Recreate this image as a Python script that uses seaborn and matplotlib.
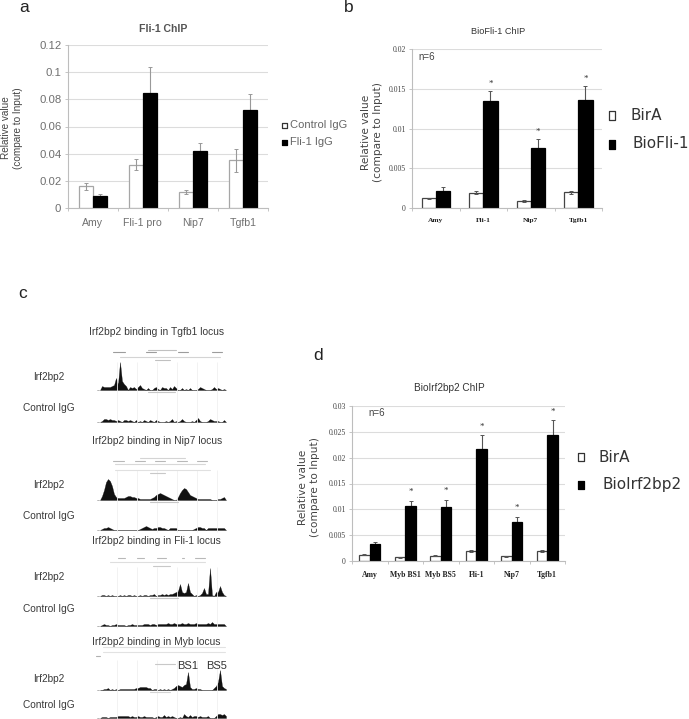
# -*- coding: utf-8 -*-
import numpy as np
import pandas as pd
import matplotlib
matplotlib.use('agg')
import matplotlib.pyplot as plt
import seaborn as sns

W, H = 689, 719

# panel a
a_loci = ['Amy', 'Fli-1 pro', 'Nip7', 'Tgfb1']
a_ctrl = [0.016, 0.032, 0.012, 0.035]
a_ctrl_err = [0.0025, 0.004, 0.0015, 0.0085]
a_treat = [0.009, 0.0845, 0.042, 0.0725]
a_treat_err = [0.001, 0.019, 0.006, 0.0115]
a_ticks = [0, 0.02, 0.04, 0.06, 0.08, 0.1, 0.12]
a_ticklabels = ['0', '0.02', '0.04', '0.06', '0.08', '0.1', '0.12']

# panel b
b_loci = ['Amy', 'Fli-1', 'Nip7', 'Tgfb1']
b_ctrl = [0.0012, 0.0019, 0.0009, 0.002]
b_ctrl_err = [0.0001, 0.0002, 0.0001, 0.0002]
b_treat = [0.0022, 0.0135, 0.0076, 0.0136]
b_treat_err = [0.0004, 0.0012, 0.0011, 0.0017]
b_ticks = [0, 0.005, 0.01, 0.015, 0.02]
b_ticklabels = ['0', '0.005', '0.01', '0.015', '0.02']
b_stars = [False, True, True, True]

# panel d
d_loci = ['Amy', 'Myb BS1', 'Myb BS5', 'Fli-1', 'Nip7', 'Tgfb1']
d_ctrl = [0.0012, 0.0007, 0.001, 0.002, 0.0009, 0.002]
d_ctrl_err = [0.0001, 0.0001, 0.0001, 0.0002, 0.0001, 0.0002]
d_treat = [0.0032, 0.0107, 0.0105, 0.0217, 0.0076, 0.0243]
d_treat_err = [0.0004, 0.001, 0.0014, 0.0026, 0.001, 0.003]
d_ticks = [0, 0.005, 0.01, 0.015, 0.02, 0.025, 0.03]
d_ticklabels = ['0', '0.005', '0.01', '0.015', '0.02', '0.025', '0.03']
d_stars = [False, True, True, True, True, True]

# panel c, read-depth signal every 2 px from x=100 on the track
tgfb_irf = [0, 4, 3, 3, 3, 3, 4, 5, 12, 6, 28, 9, 6, 4, 0, 3, 2, 3, 1, 3, 5, 2, 1, 0, 2, 0, 0, 2, 3, 1, 0, 3,
            2, 2, 0, 3, 1, 4, 2, 0, 0, 2, 0, 1, 0, 2, 0, 0, 0, 1, 3, 2, 1, 0, 0, 0, 1, 3, 1, 2, 1, 0, 1, 0]
tgfb_igg = [0, 1, 3, 3, 2, 3, 2, 2, 1, 2, 1, 0, 2, 2, 1, 2, 1, 0, 2, 0, 1, 0, 2, 1, 0, 2, 1, 0, 2, 1, 0, 0,
            0, 1, 0, 1, 3, 0, 1, 0, 1, 3, 1, 0, 0, 0, 1, 0, 2, 4, 1, 0, 0, 0, 1, 3, 2, 1, 1, 1, 0, 0, 2, 0]
nip7_irf = [0, 4, 10, 18, 21, 19, 14, 6, 3, 2, 2, 2, 2, 3, 4, 4, 3, 3, 2, 2, 1, 1, 1, 1, 1, 1, 2, 3, 5, 6, 7, 6,
            5, 4, 3, 2, 1, 0, 0, 3, 7, 10, 12, 11, 8, 5, 4, 3, 2, 1, 1, 1, 1, 1, 1, 1, 0, 0, 0, 1, 1, 2, 3, 0]
nip7_igg = [0, 1, 2, 2, 3, 2, 1, 0, 0, 0, 0, 0, 0, 0, 0, 0, 0, 0, 0, 0, 1, 2, 3, 4, 3, 2, 1, 2, 2, 3, 3, 2,
            2, 1, 0, 2, 2, 2, 2, 0, 0, 0, 0, 0, 0, 0, 0, 1, 2, 3, 3, 2, 2, 0, 2, 2, 2, 2, 2, 2, 2, 2, 2, 0]
fli_irf = [0, 1, 1, 0, 1, 0, 1, 0, 0, 0, 1, 0, 1, 0, 1, 1, 0, 1, 0, 0, 1, 0, 1, 1, 0, 1, 1, 2, 0, 1, 1, 2,
           1, 2, 1, 2, 2, 3, 4, 5, 12, 4, 3, 4, 13, 4, 2, 0, 1, 0, 1, 3, 8, 2, 2, 28, 1, 0, 4, 4, 10, 4, 1, 0]
fli_igg = [0, 1, 2, 1, 1, 0, 1, 1, 2, 1, 1, 1, 1, 0, 1, 1, 2, 1, 1, 1, 1, 1, 2, 2, 2, 1, 2, 2, 1, 2, 2, 2,
           2, 2, 3, 2, 2, 3, 2, 2, 2, 3, 2, 2, 3, 2, 2, 2, 3, 2, 2, 2, 2, 2, 3, 2, 4, 2, 2, 2, 2, 2, 2, 0]
myb_irf = [0, 0, 1, 1, 2, 0, 1, 0, 1, 0, 1, 1, 1, 1, 1, 1, 1, 1, 2, 2, 3, 3, 3, 3, 2, 2, 0, 1, 1, 0, 1, 0,
           1, 0, 1, 0, 1, 2, 4, 5, 4, 3, 5, 6, 18, 3, 1, 1, 2, 1, 1, 0, 0, 0, 0, 0, 0, 2, 4, 8, 20, 4, 2, 1]
myb_igg = [0, 1, 1, 1, 0, 1, 1, 1, 1, 2, 2, 2, 2, 2, 2, 1, 2, 1, 1, 2, 1, 1, 2, 1, 1, 1, 1, 0, 1, 2, 1, 1,
           3, 1, 2, 1, 2, 1, 0, 0, 1, 0, 4, 2, 1, 3, 1, 2, 2, 1, 2, 1, 1, 1, 2, 0, 0, 0, 2, 4, 4, 3, 4, 2]

tracks = [
    (tgfb_irf, 390), (tgfb_igg, 422),
    (nip7_irf, 500), (nip7_igg, 530),
    (fli_irf, 596), (fli_igg, 626),
    (myb_irf, 690), (myb_igg, 718),
]

# faint browser gridlines per locus
browser_grid = [117, 137, 157, 177, 197, 217]
browser_spans = [(362, 424), (470, 532), (567, 628), (660, 719)]

# browser annotation rows: start, end, y, grey
annot_start = [113, 146, 178, 212, 148, 120, 155, 148,
               113, 135, 155, 177, 197, 140, 115, 115, 150, 150,
               118, 137, 157, 182, 195, 110, 153, 150,
               103, 103, 155, 150, 96]
annot_end = [125, 156, 188, 222, 176, 220, 170, 175,
             124, 145, 165, 187, 207, 185, 205, 210, 165, 178,
             125, 144, 166, 184, 205, 205, 170, 178,
             225, 225, 175, 170, 100]
annot_y = [352, 352, 352, 352, 350, 357, 360, 392,
           461, 461, 461, 461, 461, 458, 464, 470, 473, 502,
           558, 558, 558, 558, 558, 562, 566, 598,
           647, 652, 664, 692, 656]
annot_grey = ['#9c9c9c', '#9c9c9c', '#9c9c9c', '#9c9c9c', '#c0c0c0', '#d4d4d4', '#c0c0c0', '#c8c8c8',
              '#b8b8b8', '#b8b8b8', '#b8b8b8', '#b8b8b8', '#b8b8b8', '#d4d4d4', '#d8d8d8', '#e0e0e0', '#c8c8c8', '#c8c8c8',
              '#b8b8b8', '#b8b8b8', '#b8b8b8', '#b8b8b8', '#b8b8b8', '#dedede', '#c8c8c8', '#c8c8c8',
              '#e2e2e2', '#e2e2e2', '#c8c8c8', '#d4d4d4', '#b0b0b0']

sns.set_theme(style='white')
plt.rcParams['font.family'] = ['Liberation Sans', 'DejaVu Sans']

fig = plt.figure(figsize=(W / 100, H / 100), dpi=100, facecolor='white')


# axes placed with reference pixels
def px_axes(x0, y0, x1, y1):
    return fig.add_axes([x0 / W, 1 - y1 / H, (x1 - x0) / W, (y1 - y0) / H])


# grouped bars with error bars on top
def chip_panel(box, loci, ctrl, ctrl_err, treat, treat_err, ticks, ticklabels, width, edge, err_color, tick_font, tick_size, cat_size, stars=None, star_gap=0):
    ax = px_axes(*box)
    df = pd.DataFrame({
        'locus': loci * 2,
        'value': ctrl + treat,
        'group': ['ctrl'] * len(loci) + ['treat'] * len(loci),
    })
    sns.barplot(data=df, x='locus', y='value', hue='group', palette=['white', 'black'],
                width=width, gap=0, legend=False, ax=ax, errorbar=None, saturation=1)
    n = len(loci)
    for i, bar in enumerate(ax.patches[:2 * n]):
        bar.set_edgecolor(edge if i < n else 'black')
        bar.set_linewidth(0.9)
        bar.set_zorder(2)
        cx = bar.get_x() + bar.get_width() / 2
        if i < n:
            ax.errorbar(cx, ctrl[i], yerr=ctrl_err[i], color=err_color, lw=0.8, capsize=1.3, capthick=0.7, zorder=3)
        else:
            ax.errorbar(cx, treat[i - n], yerr=[[0], [treat_err[i - n]]], color=err_color, lw=0.8, capsize=1.3, capthick=0.7, zorder=1.5)
            if stars is not None and stars[i - n]:
                ax.text(cx, treat[i - n] + treat_err[i - n] + star_gap, '*', ha='center', va='center',
                        fontsize=6.5, color='#333333', family='Liberation Serif')
    ax.set_xlim(-0.5, n - 0.5)
    ax.set_ylim(ticks[0], ticks[-1])
    ax.set_yticks(ticks)
    ax.set_yticklabels(ticklabels, family=tick_font, fontsize=tick_size, color='#6f6f6f' if tick_font == 'Liberation Sans' else '#444444')
    ax.set_xticks(np.arange(n))
    ax.set_xticklabels(loci, family=tick_font, fontsize=cat_size, color='#6f6f6f' if tick_font == 'Liberation Sans' else '#222222',
                       fontweight='normal' if tick_font == 'Liberation Sans' else 'bold')
    ax.set_xticks(np.arange(n + 1) - 0.5, minor=True)
    ax.tick_params(axis='x', which='major', length=0, pad=7)
    ax.tick_params(axis='x', which='minor', length=2.5, width=0.6, color='#bbbbbb', bottom=True)
    ax.tick_params(axis='y', length=2.5, width=0.6, color='#bbbbbb', left=True, pad=2)
    ax.set_xlabel('')
    ax.set_ylabel('')
    ax.yaxis.grid(True, color='#dcdcdc', lw=0.8)
    ax.set_axisbelow(True)
    sns.despine(ax=ax)
    for side in ['left', 'bottom']:
        ax.spines[side].set_color('#bdbdbd')
        ax.spines[side].set_linewidth(0.8)
    return ax


chip_panel((67.5, 45, 268, 208), a_loci, a_ctrl, a_ctrl_err, a_treat, a_treat_err, a_ticks, a_ticklabels,
           0.56, '#a6a6a6', '#999999', 'Liberation Sans', 8.2, 7.6)
chip_panel((412, 49, 602, 208), b_loci, b_ctrl, b_ctrl_err, b_treat, b_treat_err, b_ticks, b_ticklabels,
           0.6, '#444444', '#555555', 'Liberation Serif', 5.6, 5.4, b_stars, 0.0009)
chip_panel((352, 406, 565, 561), d_loci, d_ctrl, d_ctrl_err, d_treat, d_treat_err, d_ticks, d_ticklabels,
           0.6, '#444444', '#555555', 'Liberation Serif', 5.6, 5.6, d_stars, 0.0016)

# overlay in pixel units for panel c, labels and legends
ov = fig.add_axes([0, 0, 1, 1], facecolor='none')
ov.set_xlim(0, W)
ov.set_ylim(H, 0)
ov.axis('off')

for y0, y1 in browser_spans:
    ov.vlines(browser_grid, y0, y1, color='#f0f0f0', lw=0.6)

for sig, base in tracks:
    xs = 100 + 2 * np.arange(len(sig))
    ov.fill_between(xs, base, base - np.array(sig), color='#111111', lw=0.2)
    ov.plot([97, 99], [base, base], color='#999999', lw=0.5)

for x0, x1, y, grey in zip(annot_start, annot_end, annot_y, annot_grey):
    ov.plot([x0, x1], [y, y], color=grey, lw=0.8)


def label(x, y, s, size, color='#444444', ha='center', **kw):
    ov.text(x, y, s, fontsize=size, color=color, ha=ha, va='center', **kw)


# panel letters
label(24, 7, 'a', 12.5, '#222222')
label(349, 7, 'b', 12.5, '#222222')
label(23, 293, 'c', 12.5, '#222222')
label(318, 355, 'd', 12.5, '#222222')

# titles
label(163, 29, 'Fli-1 ChIP', 7.6, '#555555', fontweight='bold')
label(498, 32, 'BioFli-1 ChIP', 6.6, '#333333')
label(449, 388, 'BioIrf2bp2 ChIP', 7.2, '#333333')

# y labels
for x, y, s in [(6, 128, 'Relative value'), (18, 128, '(compare to Input)')]:
    label(x, y, s, 7.2, '#444444', rotation=90)
for x, y, s in [(366, 132, 'Relative value'), (378, 132, '(compare to Input)'),
                (303, 487, 'Relative value'), (315, 487, '(compare to Input)')]:
    label(x, y, s, 7.6, '#444444', rotation=90, family='DejaVu Sans')

label(418, 57, 'n=6', 7, '#444444', ha='left')
label(368, 413, 'n=6', 7, '#444444', ha='left')

# panel c labels
for x, y, s in [(157, 332, 'Irf2bp2 binding in Tgfb1 locus'), (157, 441, 'Irf2bp2 binding in Nip7 locus'),
                (156, 541, 'Irf2bp2 binding in Fli-1 locus'), (156, 642, 'Irf2bp2 binding in Myb locus')]:
    label(x, y, s, 7.4, '#3a3a3a')
for y, s in [(377, 'Irf2bp2'), (408, 'Control IgG'), (485, 'Irf2bp2'), (516, 'Control IgG'),
             (577, 'Irf2bp2'), (609, 'Control IgG'), (679, 'Irf2bp2'), (705, 'Control IgG')]:
    label(49, y, s, 7.3, '#3a3a3a')
label(188, 666, 'BS1', 8, '#333333')
label(217, 666, 'BS5', 8, '#333333')


# legends
def key(x0, x1, y, h, filled, s, tx, size, color='#333333', family='DejaVu Sans'):
    ov.fill_between([x0, x1], y - h / 2, y + h / 2, facecolor='black' if filled else 'white',
                    edgecolor='black' if filled else '#333333', lw=0.9)
    ov.text(tx, y, s, fontsize=size, color=color, ha='left', va='center', family=family)


key(282, 287, 125, 5, False, 'Control IgG', 290, 8, '#666666', 'Liberation Sans')
key(282, 287, 142, 5, True, 'Fli-1 IgG', 290, 8, '#666666', 'Liberation Sans')
key(609, 615, 115, 9, False, 'BirA', 630, 11)
key(609, 615, 144, 9, True, 'BioFli-1', 632, 11)
key(578, 584, 457, 8, False, 'BirA', 598, 11)
key(578, 584, 485, 8, True, 'BioIrf2bp2', 603, 11)

fig.savefig('out.png', dpi=100)
